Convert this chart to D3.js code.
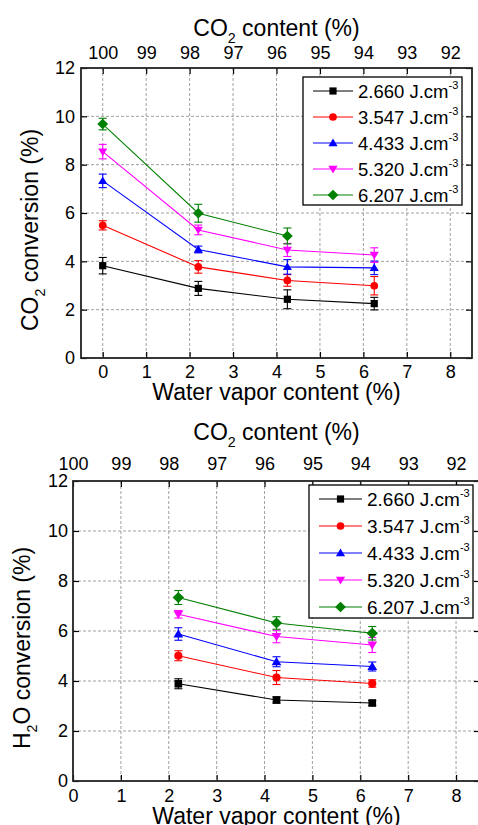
<!DOCTYPE html>
<html>
<head>
<meta charset="utf-8">
<script src="https://cdn.jsdelivr.net/npm/d3@7"></script>
<style>
  body { margin: 0; background: #fff; }
  svg { font-family: "Liberation Sans", Arial, sans-serif; }
  .grid line { stroke: #888; stroke-width: 0.8; stroke-dasharray: 3,2; }
  .tick text { font-size: 18px; fill: #000; }
  .tick line { stroke: #000; stroke-width: 1.2; }
</style>
</head>
<body>
<div id="chart"></div>
<script>
// ---- data ----
const bottomTickLabels = ["0", "1", "2", "3", "4", "5", "6", "7", "8"];
const topTickLabels = ["100", "99", "98", "97", "96", "95", "94", "93", "92"];
const yTicks = [0, 2, 4, 6, 8, 10, 12];
const energies = ["2.660", "3.547", "4.433", "5.320", "6.207"];
const colors = ["#000000", "#ff0000", "#0000ff", "#ff00ff", "#008000"];
const symbols = ["square", "circle", "up", "down", "diamond"];

// CO2 conversion (top panel)
const co2Water = [0, 2.2, 4.25, 6.25];
const co2_2660 = [3.82, 2.88, 2.43, 2.25];
const co2_3547 = [5.49, 3.77, 3.21, 2.99];
const co2_4433 = [7.33, 4.49, 3.77, 3.73];
const co2_5320 = [8.54, 5.30, 4.47, 4.26];
const co2_6207 = [9.68, 5.99, 5.05];
const co2Err_2660 = [0.34, 0.29, 0.39, 0.26];
const co2Err_3547 = [0.19, 0.26, 0.24, 0.38];
const co2Err_4433 = [0.28, 0.14, 0.30, 0.28];
const co2Err_5320 = [0.30, 0.20, 0.27, 0.30];
const co2Err_6207 = [0.24, 0.37, 0.33];

// H2O conversion (bottom panel)
const h2oWater = [2.2, 4.25, 6.25];
const h2o_2660 = [3.89, 3.24, 3.12];
const h2o_3547 = [5.01, 4.14, 3.90];
const h2o_4433 = [5.88, 4.77, 4.58];
const h2o_5320 = [6.67, 5.78, 5.44];
const h2o_6207 = [7.34, 6.32, 5.91];
const h2oErr_2660 = [0.20, 0.12, 0.10];
const h2oErr_3547 = [0.20, 0.28, 0.15];
const h2oErr_4433 = [0.25, 0.20, 0.18];
const h2oErr_5320 = [0.15, 0.25, 0.30];
const h2oErr_6207 = [0.28, 0.25, 0.27];

const WIDTH = 478, HEIGHT = 825;
const TITLE_SIZE = 23;

const svg = d3.select("#chart").append("svg")
  .attr("width", WIDTH)
  .attr("height", HEIGHT);

function symbolPath(kind, s) {
  const h = s / 2;
  if (kind === "square") return `M${-h * 0.9},${-h * 0.9}H${h * 0.9}V${h * 0.9}H${-h * 0.9}Z`;
  if (kind === "up") return `M0,${-h * 1.1}L${h * 1.15},${h * 0.8}L${-h * 1.15},${h * 0.8}Z`;
  if (kind === "down") return `M0,${h * 1.1}L${h * 1.15},${-h * 0.8}L${-h * 1.15},${-h * 0.8}Z`;
  if (kind === "diamond") return `M0,${-h * 1.3}L${h * 1.35},0L0,${h * 1.3}L${-h * 1.35},0Z`;
  return null;
}

function drawMarker(g, kind, color, x, y, s) {
  if (kind === "circle") {
    g.append("circle").attr("cx", x).attr("cy", y).attr("r", s * 0.48).attr("fill", color);
  } else {
    g.append("path").attr("d", symbolPath(kind, s))
      .attr("transform", `translate(${x},${y})`).attr("fill", color);
  }
}

// text with a subscript in the middle: pre + sub + post
function subText(sel, pre, sub, post, size) {
  sel.append("tspan").text(pre);
  sel.append("tspan").text(sub).attr("font-size", size * 0.62).attr("dy", size * 0.3);
  sel.append("tspan").text(post).attr("dy", -size * 0.3);
}

function drawPanel(p) {
  const x = d3.scaleLinear().domain(p.xDomain).range([p.left, p.right]);
  const y = d3.scaleLinear().domain([0, 12]).range([p.bottom, p.top]);
  const g = svg.append("g");

  // grid
  const grid = g.append("g").attr("class", "grid");
  grid.selectAll(".gx").data(d3.range(0, 9).filter(v => x(v) > p.left + 1))
    .join("line")
      .attr("x1", d => x(d)).attr("x2", d => x(d))
      .attr("y1", p.top).attr("y2", p.bottom);
  grid.selectAll(".gy").data([2, 4, 6, 8, 10])
    .join("line")
      .attr("x1", p.left).attr("x2", p.right)
      .attr("y1", d => y(d)).attr("y2", d => y(d));

  // axes, ticks point inward
  const xt = d3.range(0, 9);
  g.append("g")
    .attr("transform", `translate(0,${p.bottom})`)
    .call(d3.axisBottom(x).tickValues(xt).tickFormat((d, i) => bottomTickLabels[i])
      .tickSizeInner(-6).tickSizeOuter(0).tickPadding(p.padBottom))
    .call(a => a.select(".domain").remove());
  g.append("g")
    .attr("transform", `translate(0,${p.top})`)
    .call(d3.axisTop(x).tickValues(xt).tickFormat((d, i) => topTickLabels[i])
      .tickSizeInner(-6).tickSizeOuter(0).tickPadding(p.padTop))
    .call(a => a.select(".domain").remove());
  g.append("g")
    .attr("transform", `translate(${p.left},0)`)
    .call(d3.axisLeft(y).tickValues(yTicks).tickSizeInner(-6).tickSizeOuter(0).tickPadding(p.padLeft))
    .call(a => a.select(".domain").remove());
  g.append("g")
    .attr("transform", `translate(${p.right},0)`)
    .call(d3.axisRight(y).tickValues(yTicks).tickFormat("").tickSizeInner(-6).tickSizeOuter(0))
    .call(a => a.select(".domain").remove());

  // frame
  g.append("rect")
    .attr("x", p.left).attr("y", p.top)
    .attr("width", p.right - p.left).attr("height", p.bottom - p.top)
    .attr("fill", "none").attr("stroke", "#222").attr("stroke-width", 1.8);

  // series
  p.series.forEach((vals, si) => {
    const pts = vals.map((v, i) => ({ x: p.xs[i], y: v, e: p.errs[si][i] }));
    const col = colors[si];
    g.append("path").datum(pts)
      .attr("d", d3.line().x(d => x(d.x)).y(d => y(d.y)))
      .attr("fill", "none").attr("stroke", col).attr("stroke-width", 1.1);
    const eb = g.append("g").attr("stroke", col).attr("stroke-width", 1.1);
    pts.forEach(d => {
      const cx = x(d.x);
      eb.append("line").attr("x1", cx).attr("x2", cx).attr("y1", y(d.y - d.e)).attr("y2", y(d.y + d.e));
      eb.append("line").attr("x1", cx - 4).attr("x2", cx + 4).attr("y1", y(d.y - d.e)).attr("y2", y(d.y - d.e));
      eb.append("line").attr("x1", cx - 4).attr("x2", cx + 4).attr("y1", y(d.y + d.e)).attr("y2", y(d.y + d.e));
    });
    pts.forEach(d => drawMarker(g, symbols[si], col, x(d.x), y(d.y), p.markerSize));
  });

  // legend
  const L = p.legend;
  g.append("rect")
    .attr("x", L.x).attr("y", L.y).attr("width", L.w).attr("height", L.h)
    .attr("fill", "#fff").attr("stroke", "#000").attr("stroke-width", 1.3);
  energies.forEach((e, i) => {
    const ly = L.y + L.pad + i * L.step;
    g.append("line")
      .attr("x1", L.x + 10).attr("x2", L.x + 10 + L.lineLen)
      .attr("y1", ly).attr("y2", ly)
      .attr("stroke", colors[i]).attr("stroke-width", 1.1);
    drawMarker(g, symbols[i], colors[i], L.x + 10 + L.lineLen / 2, ly, 8);
    const t = g.append("text")
      .attr("x", L.x + 10 + L.lineLen + 5).attr("y", ly + 7)
      .attr("font-size", L.font);
    t.append("tspan").text(e + " J.cm");
    t.append("tspan").text("-3").attr("font-size", 11).attr("dy", -9);
  });

  // titles
  const cx = (x(0) + x(8)) / 2 + p.titleShift;
  const tt = svg.append("text")
    .attr("x", cx).attr("y", p.topTitleY)
    .attr("text-anchor", "middle").attr("font-size", TITLE_SIZE);
  subText(tt, "CO", "2", " content (%)", TITLE_SIZE);

  svg.append("text")
    .attr("x", cx).attr("y", p.bottomTitleY)
    .attr("text-anchor", "middle").attr("font-size", TITLE_SIZE)
    .text("Water vapor content (%)");

  const yt = svg.append("text")
    .attr("transform", `translate(${p.yTitleX},${(p.top + p.bottom) / 2 + 17}) rotate(-90)`)
    .attr("text-anchor", "middle").attr("font-size", TITLE_SIZE);
  subText(yt, p.yPre, "2", p.yPost, TITLE_SIZE);
}

drawPanel({
  left: 81, right: 472, top: 68, bottom: 358,
  xDomain: [-0.5, 8.5],
  xs: co2Water,
  series: [co2_2660, co2_3547, co2_4433, co2_5320, co2_6207],
  errs: [co2Err_2660, co2Err_3547, co2Err_4433, co2Err_5320, co2Err_6207],
  markerSize: 8,
  padBottom: 7, padTop: 9, padLeft: 6,
  legend: { x: 303, y: 77, w: 159, h: 128, pad: 14, step: 26, lineLen: 40, font: 18.5 },
  topTitleY: 36, bottomTitleY: 400, titleShift: 0,
  yTitleX: 38, yPre: "CO", yPost: " conversion (%)"
});

drawPanel({
  left: 73, right: 480, top: 481, bottom: 781,
  xDomain: [0, 8.5],
  xs: h2oWater,
  series: [h2o_2660, h2o_3547, h2o_4433, h2o_5320, h2o_6207],
  errs: [h2oErr_2660, h2oErr_3547, h2oErr_4433, h2oErr_5320, h2oErr_6207],
  markerSize: 8.5,
  padBottom: 8, padTop: 11, padLeft: 5,
  legend: { x: 309, y: 485, w: 164, h: 133, pad: 14, step: 27, lineLen: 43, font: 19 },
  topTitleY: 440, bottomTitleY: 824, titleShift: 12,
  yTitleX: 30, yPre: "H", yPost: "O conversion (%)"
});
</script>
</body>
</html>
